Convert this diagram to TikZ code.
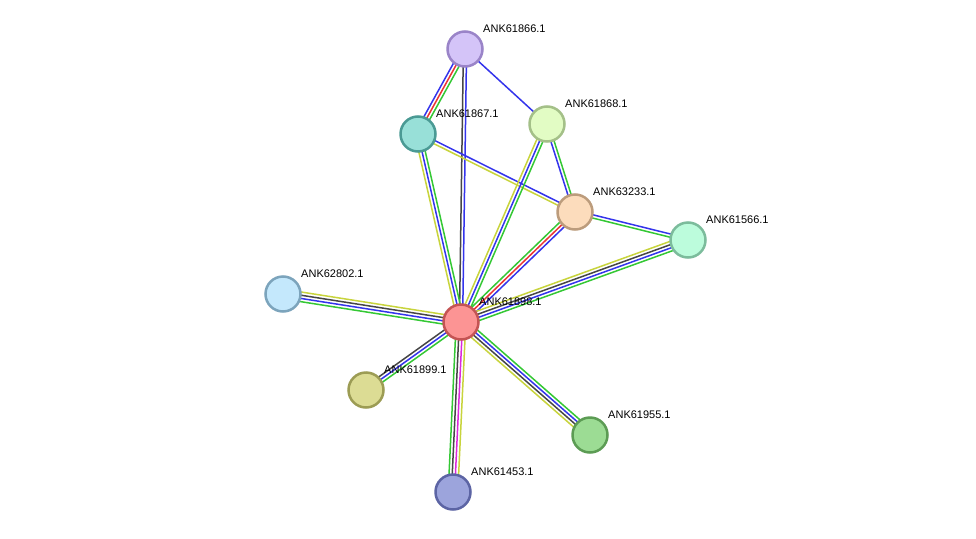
\documentclass[tikz,border=0pt]{standalone}
\usepackage{fontspec}
\setmainfont{Liberation Sans}
\usetikzlibrary{calc}
\pgfdeclarelayer{background}
\pgfsetlayers{background,main}

% evidence channel colours
\definecolor{evyel}{HTML}{C8D43C}
\definecolor{evblu}{HTML}{3434EC}
\definecolor{evgrn}{HTML}{34C834}
\definecolor{evred}{HTML}{EC3434}
\definecolor{evblk}{HTML}{464646}
\definecolor{evmag}{HTML}{DC28DC}

\tikzset{
  protein/.style={circle, minimum size=35pt, inner sep=0pt, line width=2.5pt},
  plabel/.style={anchor=base west, inner sep=0pt, xscale=1.1, yscale=1.1},
  evline/.style={line width=1.5pt},
}

% one line per evidence channel, spread across the edge direction
\newcommand\medge[4]{%
  \foreach \col [count=\i] in {#4} {%
    \pgfmathsetmacro\off{(\i-(#3+1)/2)*3.2}%
    \draw[\col, evline] ($(#1)!\off pt!90:(#2)$) -- ($(#2)!\off pt!-90:(#1)$);
  }%
}

\newcommand\protnode[6]{% name, x, y, fill, border, label
  \definecolor{#1fill}{HTML}{#4}%
  \definecolor{#1rim}{HTML}{#5}%
  \node[protein, fill=#1fill, draw=#1rim] (#1) at (#2,#3) {};
  \node[plabel] (#1-lbl) at (#2+18,#3-17) {#6};
}

\begin{document}
\begin{tikzpicture}[x=1pt, y=-1pt]
  \begin{pgfonlayer}{background}
    \useasboundingbox[fill=white] (0,0) rectangle (976,538);
  \end{pgfonlayer}

  \protnode{n66}{465}{49}{D4C4F8}{9A84C8}{ANK61866.1}
  \protnode{n67}{418}{134}{98E0D8}{4A9A94}{ANK61867.1}
  \protnode{n68}{547}{124}{E2FCC4}{A4C088}{ANK61868.1}
  \protnode{n33}{575}{212}{FCDCBC}{BC9C7C}{ANK63233.1}
  \protnode{n566}{688}{240}{BCFCDC}{7CBC9C}{ANK61566.1}
  \protnode{n02}{283}{294}{C4E8FC}{7CA4BC}{ANK62802.1}
  \protnode{n98}{461}{322}{FC9494}{C45454}{ANK61898.1}
  \protnode{n99}{366}{390}{DCDC94}{9C9C54}{ANK61899.1}
  \protnode{n55}{590}{435}{9CDC94}{5C9C54}{ANK61955.1}
  \protnode{n53}{453}{492}{9CA4DC}{5C64A4}{ANK61453.1}

  \begin{pgfonlayer}{background}
    \medge{n66}{n67}{3}{evblu,evred,evgrn}
    \medge{n66}{n98}{2}{evblk,evblu}
    \medge{n66}{n68}{1}{evblu}
    \medge{n67}{n98}{3}{evyel,evblu,evgrn}
    \medge{n67}{n33}{2}{evyel,evblu}
    \medge{n68}{n98}{3}{evyel,evblu,evgrn}
    \medge{n68}{n33}{2}{evblu,evgrn}
    \medge{n33}{n98}{3}{evgrn,evred,evblu}
    \medge{n33}{n566}{2}{evgrn,evblu}
    \medge{n566}{n98}{4}{evyel,evblk,evblu,evgrn}
    \medge{n02}{n98}{4}{evgrn,evblu,evblk,evyel}
    \medge{n99}{n98}{3}{evgrn,evblu,evblk}
    \medge{n98}{n55}{4}{evyel,evblk,evblu,evgrn}
    \medge{n98}{n53}{4}{evgrn,evblk,evmag,evyel}
  \end{pgfonlayer}
\end{tikzpicture}
\end{document}
